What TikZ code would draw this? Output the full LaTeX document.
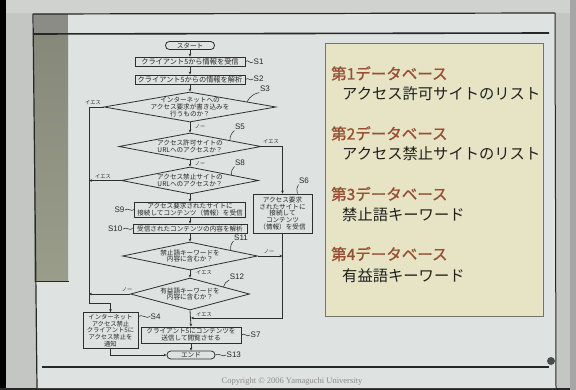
\documentclass[tikz,border=0pt]{standalone}
\usepackage{fontspec}
\setmainfont{Liberation Sans}
\newfontfamily\jp{Noto Sans CJK JP}
\newfontfamily\jpb[FakeBold=1]{Noto Sans CJK JP}
\newfontfamily\cprfont{Liberation Serif}
\usetikzlibrary{shapes.geometric,arrows.meta,calc}
\definecolor{bezel}{HTML}{C4C6C3}
\definecolor{bezeltop}{HTML}{D0D2CF}
\definecolor{slidebg}{HTML}{DEE2E0}
\definecolor{panelA}{HTML}{86887A}
\definecolor{panelB}{HTML}{9B9D8B}
\definecolor{panelTop}{HTML}{8B8C86}
\definecolor{frameline}{HTML}{262827}
\definecolor{beige}{HTML}{E6E4C5}
\definecolor{beigeline}{HTML}{74756C}
\definecolor{dbred}{HTML}{964F33}
\definecolor{dbtext}{HTML}{1F201E}
\definecolor{linec}{HTML}{2E302F}
\definecolor{txtc}{HTML}{262827}
\newcommand\flowfont{\jp\fontsize{6.6}{6.9}\selectfont}
\newcommand\bigflowfont{\jp\fontsize{7.2}{7.5}\selectfont}
\newcommand\smallflowfont{\jp\fontsize{6.3}{6.8}\selectfont}
\newcommand\ynfont{\jp\fontsize{5.2}{5.5}\selectfont}
\newcommand\slfont{\fontsize{8}{9}\selectfont}
\tikzset{
  fl/.style={draw=linec, line width=0.8pt, fill=slidebg, inner sep=0pt, align=center, font=\flowfont, text=txtc},
  term/.style={fl, rounded corners=3.8pt},
  dia/.style={draw=linec, line width=0.8pt, fill=slidebg, diamond, inner sep=0pt},
  ftxt/.style={inner sep=0pt, align=center, font=\flowfont, text=txtc},
  arr/.style={draw=linec, line width=0.8pt, -{Stealth[length=3pt,width=2.6pt]}},
  ln/.style={draw=linec, line width=0.8pt},
  tick/.style={draw=linec, line width=0.55pt},
  yn/.style={font=\ynfont, text=txtc, inner sep=0.5pt},
  sl/.style={font=\slfont, text=txtc, inner sep=0.5pt},
  dbhead/.style={anchor=west, inner sep=0pt, font=\jpb\fontsize{15.5}{17}\selectfont, text=dbred},
  dbitem/.style={anchor=west, inner sep=0pt, font=\jp\fontsize{15.3}{17}\selectfont, text=dbtext},
}
\begin{document}
\begin{tikzpicture}[x=1pt,y=-1pt]
\useasboundingbox (0,0) rectangle (576,390);
% photo surroundings
\fill[bezel] (0,0) rectangle (576,390);
\fill[bezeltop] (6,0) rectangle (570,13);
\fill[black] (0,0) rectangle (6,390);
\fill[black!85] (0,388) rectangle (576,390);
\fill[black!35] (570,0) rectangle (576,390);
% slide
\fill[slidebg] (33,14) -- (555,13) -- (556,388) -- (37,388) -- cycle;
\fill[panelTop] (34,14.5) rectangle (68,34);
\shade[top color=panelA, bottom color=panelB] (34,34) rectangle (68,282);
\draw[frameline, line width=1pt] (35,282) -- (69,282);
\draw[frameline, line width=1.2pt] (33,14) -- (555,13);
\draw[frameline, line width=1.2pt] (33,14) -- (37,388);
\draw[frameline, line width=1pt] (555,13) -- (556,388);
\draw[frameline, line width=1.6pt] (33,34) -- (549,33);
\draw[frameline, line width=1.6pt] (42,367) -- (549,367);
\fill[black!70] (551,361) circle (4);
\node[font=\cprfont\fontsize{8.5}{9}\selectfont, text=black!45, inner sep=0pt] (cpr) at (292,381) {Copyright \textcopyright{} 2006 Yamaguchi University};
% database panel
\node[draw=beigeline, fill=beige, line width=0.8pt, minimum width=218, minimum height=273, inner sep=0pt] (dbpanel) at (434,179.5) {};
\node[dbhead] (d1) at (331,73.5) {第1データベース};
\node[dbitem] (d1i) at (342,93.5) {アクセス許可サイトのリスト};
\node[dbhead] (d2) at (331,133.5) {第2データベース};
\node[dbitem] (d2i) at (342,154) {アクセス禁止サイトのリスト};
\node[dbhead] (d3) at (331,194) {第3データベース};
\node[dbitem] (d3i) at (342,215) {禁止語キーワード};
\node[dbhead] (d4) at (331,254) {第4データベース};
\node[dbitem] (d4i) at (342,275.5) {有益語キーワード};
% flowchart nodes
\node[term, minimum width=49, minimum height=8] (start) at (190,45.5) {スタート};
\node[fl, font=\bigflowfont, minimum width=110, minimum height=9] (s1) at (190,61.5) {クライアント5から情報を受信};
\node[fl, font=\bigflowfont, minimum width=110, minimum height=9] (s2) at (190,79.5) {クライアント5からの情報を解析};
\node[dia, minimum width=172, minimum height=30, aspect=5.7] (s3) at (190,107) {};
\node[ftxt] (s3t) at (s3) {インターネットへの\\アクセス要求が書き込みを\\行うものか？};
\node[dia, minimum width=142, minimum height=27, aspect=5.2] (s5) at (190,146.5) {};
\node[ftxt] (s5t) at (s5) {アクセス許可サイトの\\URLへのアクセスか？};
\node[dia, minimum width=137, minimum height=27, aspect=5.1] (s8) at (190,180.5) {};
\node[ftxt] (s8t) at (s8) {アクセス禁止サイトの\\URLへのアクセスか？};
\node[fl, minimum width=111, minimum height=15] (s9) at (190,209.5) {アクセス要求されたサイトに\\接続してコンテンツ（情報）を受信};
\node[fl, minimum width=114, minimum height=9] (s10) at (190,228.5) {受信されたコンテンツの内容を解析};
\node[fl, minimum width=59, minimum height=39] (s6) at (282.5,213.5) {アクセス要求\\されたサイトに\\接続して\\コンテンツ\\（情報）を受信};
\node[dia, minimum width=135, minimum height=28, aspect=4.8] (s11) at (190,256) {};
\node[ftxt] (s11t) at (s11) {禁止語キーワードを\\内容に含むか？};
\node[dia, minimum width=119, minimum height=32, aspect=3.7] (s12) at (190,294) {};
\node[ftxt] (s12t) at (s12) {有益語キーワードを\\内容に含むか？};
\node[fl, font=\smallflowfont, minimum width=55, minimum height=36] (s4) at (110.5,330.5) {インターネット\\アクセス禁止\\クライアント5に\\アクセス禁止を\\通知};
\node[fl, minimum width=100, minimum height=16] (s7) at (191,335) {クライアント5にコンテンツを\\送信して閲覧させる};
\node[term, minimum width=48, minimum height=8] (end) at (191,355) {エンド};
% coordinates
\coordinate (lx1) at (89,107);
\coordinate (lx2) at (89,303);
\coordinate (lx3) at (110.5,303);
\coordinate (j7) at (191,318);
% main flow
\draw[arr] (start) -- (s1);
\draw[arr] (s1) -- (s2);
\draw[arr] (s2) -- (s3);
\draw[arr] (s3) -- (s5);
\draw[arr] (s5) -- (s8);
\draw[arr] (s8) -- (s9);
\draw[arr] (s9) -- (s10);
\draw[arr] (s10) -- (s11);
\draw[arr] (s11) -- (s12);
\draw[arr] (s12.south) -- (s7.north);
\draw[arr] (s7) -- (end);
% left side
\draw[arr] (s3.west) -- (lx1) -- (lx2) -- (lx3) -- (s4.north);
\draw[arr] (s8.west) -- (s8.west -| lx1);
\draw[arr] (s12.west) -- (s12.west -| lx1);
\draw[arr] (s4.south) |- (end.west);
% right side
\draw[arr] (s5.east) -| (s6.north);
\draw[arr] (s6.south) |- (j7);
\draw[arr] (s11.east) -- (s11.east -| s6.south);
% yes/no labels
\node[yn] (y3) at (93,103) {イエス};
\node[yn] (n3) at (200,126.5) {ノー};
\node[yn] (y5) at (271,141.5) {イエス};
\node[yn] (n5) at (200,164) {ノー};
\node[yn] (y8) at (103,177) {イエス};
\node[yn] (n11) at (269,252) {ノー};
\node[yn] (y11) at (204,273) {イエス};
\node[yn] (n12) at (127,290) {ノー};
\node[yn] (y12) at (204,315) {イエス};
% step labels
\node[sl, anchor=west] (l1) at (253,62) {S1};
\node[sl, anchor=west] (l2) at (253,79) {S2};
\node[sl] (l3) at (265,89) {S3};
\node[sl] (l5) at (240,127) {S5};
\node[sl] (l8) at (240,163) {S8};
\node[sl] (l6) at (304,181) {S6};
\node[sl, anchor=east] (l9) at (125,210) {S9};
\node[sl, anchor=east] (l10) at (123,229) {S10};
\node[sl] (l11) at (241,237.5) {S11};
\node[sl] (l12) at (237,276.5) {S12};
\node[sl, anchor=west] (l4) at (150,316.5) {S4};
\node[sl, anchor=west] (l7) at (250,335) {S7};
\node[sl, anchor=west] (l13) at (226,355) {S13};
% tilde connectors
\draw[tick] (s1.east) .. controls +(3,-3) and +(-3,3) .. (l1.west);
\draw[tick] (s2.east) .. controls +(3,-3) and +(-3,3) .. (l2.west);
\draw[tick] (l9.east) .. controls +(3,-3) and +(-3,3) .. (s9.west);
\draw[tick] (l10.east) .. controls +(3,-3) and +(-3,3) .. (s10.west);
\draw[tick] (s4.east |- l4.west) .. controls +(3,-3) and +(-3,3) .. (l4.west);
\draw[tick] (s7.east) .. controls +(3,-3) and +(-3,3) .. (l7.west);
\draw[tick] (end.east) .. controls +(3,-3) and +(-3,3) .. (l13.west);
% diamond ticks
\draw[tick] (l3.south west) to[bend right=25] ($(s3.north)!0.66!(s3.east)$);
\draw[tick] (l5.south west) to[bend right=25] ($(s5.north)!0.56!(s5.east)$);
\draw[tick] (l8.south west) to[bend right=25] ($(s8.north)!0.6!(s8.east)$);
\draw[tick] (l11.south west) to[bend right=25] ($(s11.north)!0.6!(s11.east)$);
\draw[tick] (l12.south west) to[bend right=25] ($(s12.north)!0.56!(s12.east)$);
\draw[tick] (l6.south west) to[bend right=25] ($(s6.north)!0.5!(s6.north east)$);
\end{tikzpicture}
\end{document}
